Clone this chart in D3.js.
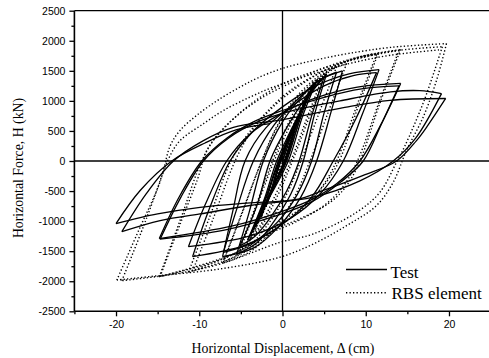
<!DOCTYPE html>
<html>
<head>
<meta charset="utf-8">
<script src="https://cdn.jsdelivr.net/npm/d3@7"></script>
<style>
  html, body { margin: 0; padding: 0; background: #fff; }
  svg { display: block; }
  .tick text { font-family: "Liberation Sans", Arial, sans-serif; font-size: 10.5px; fill: #000; }
  .title { font-family: "Liberation Serif", "Times New Roman", serif; fill: #000; }
</style>
</head>
<body>
<svg id="chart" width="489" height="358"></svg>
<script>
// Axis ticks
const xMajorTicks = [-20, -10, 0, 10, 20];
const xMinorTicks = [-25, -15, -5, 5, 15, 25];
const yMajorTicks = [-2500, -2000, -1500, -1000, -500, 0, 500, 1000, 1500, 2000, 2500];
const yMinorTicks = [-2250, -1750, -1250, -750, -250, 250, 750, 1250, 1750, 2250];

// Test record: half-cycles [displacement (cm), force (kN)], peak to peak
const testElastic = [
  [[0, 0], [1.0, 400], [2.0, 760]],
  [[2.0, 760], [1.0, 340], [0.2, 0], [-0.9, -360], [-2.0, -760]],
  [[-2.0, -760], [-1.0, -360], [-0.2, 0], [1.2, 500], [2.6, 960]],
  [[2.6, 960], [1.4, 500], [0.3, 0], [-1.1, -420], [-2.6, -930]],
  [[-2.6, -930], [-1.3, -450], [-0.3, 0], [1.4, 580], [3.2, 1150]],
  [[3.2, 1150], [1.7, 600], [0.4, 0], [-1.4, -500], [-3.3, -1100]],
  [[-3.3, -1100], [-1.7, -520], [-0.4, 0], [1.7, 680], [3.8, 1300]],
  [[3.8, 1300], [2.1, 700], [0.5, 0], [-1.6, -600], [-3.9, -1250]],
  [[-3.9, -1250], [-2.0, -600], [-0.5, 0], [1.8, 720], [4.2, 1360]],
  [[4.2, 1360], [2.4, 740], [0.7, 0], [-1.7, -640], [-4.2, -1320]]
];
const testLevel5 = [
  [[-4.2, -1320], [-2.2, -640], [-0.7, 0], [1.4, 620], [3.2, 1080], [5.0, 1400]],
  [[5.0, 1400], [3.5, 750], [2.0, 0], [0.5, -500], [-1.5, -950], [-3.3, -1250], [-5.1, -1410]],
  [[-5.1, -1410], [-3.1, -750], [-1.5, 0], [0.5, 550], [2.8, 1050], [5.3, 1450]],
  [[5.3, 1450], [3.8, 750], [2.5, 0], [1.0, -550], [-1.0, -1000], [-3.0, -1350], [-5.5, -1550]]
];
const testLevel7 = [
  [[-5.5, -1550], [-4.0, -850], [-2.3, 0], [0, 650], [2.5, 1100], [4.5, 1350], [6.5, 1480]],
  [[6.5, 1480], [5.0, 800], [3.5, 0], [1.8, -550], [-0.5, -1000], [-3.5, -1350], [-7.1, -1520]],
  [[-7.1, -1520], [-5.5, -800], [-3.5, 0], [-1.0, 600], [2.0, 1050], [4.5, 1350], [7.2, 1500]],
  [[7.2, 1500], [5.8, 800], [4.1, 0], [2.2, -600], [-0.5, -1100], [-3.5, -1450], [-7.2, -1590]]
];
const testLevel11 = [
  [[-7.2, -1590], [-6.0, -850], [-4.5, 0], [-2.0, 550], [1.5, 950], [5.0, 1250], [8.5, 1420], [11.3, 1470]],
  [[11.3, 1470], [8.8, 700], [6.1, 0], [3.5, -600], [0, -1050], [-4.5, -1400], [-10.8, -1590]],
  [[-10.8, -1590], [-8.8, -800], [-6.3, 0], [-3.5, 500], [0, 900], [4.0, 1250], [8.0, 1450], [11.6, 1520]],
  [[11.6, 1520], [9.6, 780], [7.3, 0], [4.5, -550], [1.0, -950], [-4.0, -1250], [-11.3, -1425]]
];
const testLevel14 = [
  [[-11.3, -1425], [-9.2, -700], [-6.7, 0], [-3.9, 450], [0, 800], [4.0, 1050], [9.0, 1230], [14.2, 1290]],
  [[14.2, 1290], [11.8, 600], [9.3, 0], [6.5, -380], [3.7, -630], [-0.3, -850], [-6.0, -1080], [-14.8, -1290]],
  [[-14.8, -1290], [-12.5, -620], [-9.7, 0], [-6.7, 380], [-3.5, 650], [0, 840], [5.0, 1060], [9.5, 1200], [14.0, 1250]],
  [[14.0, 1250], [11.9, 620], [9.7, 0], [7.0, -350], [3.5, -680], [-1.0, -920], [-7.0, -1150], [-14.7, -1300]]
];
const testLevel20 = [
  [[-14.7, -1300], [-12.2, -600], [-9.5, 0], [-6.5, 380], [-3.0, 650], [1.0, 830], [6.9, 1000], [13.0, 1150], [16.5, 1170], [19.1, 1120]],
  [[19.1, 1120], [16.0, 380], [13.3, 0], [9.3, -330], [3.7, -600], [-3.9, -740], [-9.9, -880], [-14.7, -990], [-19.3, -1175]],
  [[-19.3, -1175], [-16.4, -550], [-13.1, 0], [-9.5, 340], [-5.9, 560], [-0.3, 680], [6.9, 875], [12.9, 1010], [19.6, 1040]],
  [[19.6, 1040], [17.5, 600], [16.1, 340], [13.7, 0], [9.7, -240], [4.9, -490], [1.7, -640], [-4.3, -700], [-9.9, -770], [-15.0, -880], [-20.0, -1040]],
  [[-20.0, -1040], [-17.1, -490], [-13.3, 0], [-9.3, 300], [-5.5, 520], [-1.5, 620]]
];

// RBS element model: half-cycles [displacement (cm), force (kN)]
const rbsElastic = [
  [[0, 0], [1.0, 380], [2.0, 740]],
  [[2.0, 740], [1.0, 330], [0.1, 0], [-1.0, -370], [-2.0, -760]],
  [[-2.0, -760], [-1.0, -360], [-0.1, 0], [1.2, 480], [2.6, 950]],
  [[2.6, 950], [1.4, 480], [0.2, 0], [-1.2, -460], [-2.6, -960]],
  [[-2.6, -960], [-1.3, -470], [-0.2, 0], [1.5, 600], [3.2, 1160]],
  [[3.2, 1160], [1.7, 600], [0.3, 0], [-1.5, -560], [-3.3, -1160]],
  [[-3.3, -1160], [-1.7, -560], [-0.3, 0], [1.7, 680], [3.8, 1320]],
  [[3.8, 1320], [2.1, 690], [0.4, 0], [-1.7, -640], [-3.9, -1300]]
];
const rbsLevel5 = [
  [[-3.9, -1300], [-2.0, -640], [-0.4, 0], [1.5, 660], [3.2, 1150], [5.0, 1450]],
  [[5.0, 1450], [3.3, 850], [1.0, 0], [-0.8, -550], [-2.8, -1100], [-5.1, -1480]],
  [[-5.1, -1480], [-3.3, -830], [-1.0, 0], [0.8, 560], [2.8, 1080], [5.3, 1480]],
  [[5.3, 1480], [3.4, 800], [1.2, 0], [-0.5, -550], [-2.6, -1100], [-5.5, -1560]]
];
const rbsLevel7 = [
  [[-5.5, -1560], [-3.3, -780], [-1.2, 0], [0.6, 600], [3.0, 1180], [6.5, 1570]],
  [[6.5, 1570], [4.4, 800], [2.2, 0], [0.5, -550], [-2.0, -1100], [-4.5, -1480], [-7.1, -1680]],
  [[-7.1, -1680], [-4.8, -850], [-2.5, 0], [-0.5, 620], [2.0, 1120], [4.8, 1450], [7.7, 1620]],
  [[7.7, 1620], [5.6, 850], [3.3, 0], [1.5, -580], [-1.0, -1120], [-3.8, -1500], [-7.2, -1700]]
];
const rbsLevel11 = [
  [[-7.2, -1700], [-4.9, -870], [-2.5, 0], [-0.5, 600], [2.0, 1080], [5.0, 1450], [8.0, 1670], [11.3, 1770]],
  [[11.3, 1770], [9.0, 950], [6.5, 0], [4.8, -420], [2.5, -780], [-0.5, -1100], [-5.0, -1550], [-10.8, -1830]],
  [[-10.8, -1830], [-8.3, -950], [-5.7, 0], [-3.8, 480], [-1.5, 850], [1.5, 1200], [5.0, 1500], [8.5, 1700], [11.5, 1787]],
  [[11.5, 1787], [9.2, 950], [6.8, 0], [5.0, -400], [2.8, -720], [0, -1000], [-4.5, -1450], [-11.3, -1850]]
];
const rbsLevel14 = [
  [[-11.3, -1850], [-8.8, -950], [-6.2, 0], [-4.3, 420], [-2.0, 800], [1.0, 1180], [5.0, 1500], [9.5, 1740], [14.2, 1853]],
  [[14.2, 1853], [11.8, 1000], [9.3, 0], [7.7, -410], [5.7, -690], [2.1, -960], [-0.3, -1100], [-6.0, -1550], [-14.8, -1925]],
  [[-14.8, -1925], [-12.2, -950], [-9.7, 0], [-8.0, 400], [-5.5, 750], [-2.5, 1050], [1.0, 1300], [5.0, 1550], [9.5, 1740], [14.0, 1840]],
  [[14.0, 1840], [11.6, 980], [9.0, 0], [7.3, -420], [5.0, -740], [1.5, -1020], [-1.5, -1200], [-7.0, -1620], [-14.7, -1920]]
];
const rbsLevel20 = [
  [[-14.7, -1920], [-12.3, -1050], [-10.2, -300], [-9.0, 200], [-6.5, 620], [-3.5, 980], [0, 1280], [4.0, 1500], [9.0, 1700], [14.0, 1840], [19.2, 1900]],
  [[19.2, 1900], [17.0, 1000], [14.7, 250], [13.7, -20], [11.7, -520], [8.9, -853], [3.7, -1213], [-0.3, -1353], [-7.5, -1713], [-13.0, -1880], [-19.3, -1990]],
  [[-19.3, -1990], [-16.6, -1050], [-14.4, -200], [-13.5, 250], [-12.3, 510], [-10.3, 760], [-7.9, 1000], [-5.1, 1230], [-3.0, 1380], [0, 1540], [4.0, 1680], [8.0, 1790], [13.0, 1890], [19.7, 1953]],
  [[19.7, 1953], [18.5, 1340], [16.9, 730], [14.9, 175], [13.3, -353], [11.3, -740], [7.7, -1075], [3.7, -1380], [-0.3, -1600], [-7.5, -1795], [-14.9, -1908], [-19.9, -1980]],
  [[-19.9, -1980], [-17.1, -1100], [-15.1, -490], [-13.7, 35], [-12.3, 340], [-9.5, 620], [-7.1, 840], [-3.9, 1063], [-1.1, 1230], [3.0, 1420], [8.0, 1620], [13.0, 1760], [19.0, 1850]]
];

const testBranches = [...testElastic, ...testLevel5, ...testLevel7, ...testLevel11, ...testLevel14, ...testLevel20];
const rbsBranches = [...rbsElastic, ...rbsLevel5, ...rbsLevel7, ...rbsLevel11, ...rbsLevel14, ...rbsLevel20];

const svg = d3.select("#chart");
const plotLeft = 74.4, plotRight = 490.6, plotTop = 10.7, plotBottom = 311.3;

const x = d3.scaleLinear().domain([-25, 25]).range([plotLeft, plotRight]);
const y = d3.scaleLinear().domain([-2500, 2500]).range([plotBottom, plotTop]);

svg.append("defs").append("clipPath").attr("id", "plot")
  .append("rect").attr("x", plotLeft).attr("y", plotTop)
  .attr("width", plotRight - plotLeft).attr("height", plotBottom - plotTop);

// Zero reference lines
svg.append("line").attr("x1", plotLeft).attr("x2", plotRight).attr("y1", y(0)).attr("y2", y(0))
  .attr("stroke", "#000").attr("stroke-width", 1.3);
svg.append("line").attr("x1", x(0)).attr("x2", x(0)).attr("y1", plotTop).attr("y2", plotBottom)
  .attr("stroke", "#000").attr("stroke-width", 1.3);

const line = d3.line()
  .x(d => x(d[0]))
  .y(d => y(d[1]))
  .curve(d3.curveCatmullRom.alpha(0.5));

const plot = svg.append("g").attr("clip-path", "url(#plot)");

plot.selectAll("path.rbs").data(rbsBranches).join("path")
  .attr("class", "rbs")
  .attr("d", line)
  .attr("fill", "none")
  .attr("stroke", "#000")
  .attr("stroke-width", 1.4)
  .attr("stroke-dasharray", "1.3 2.2");

plot.selectAll("path.test").data(testBranches).join("path")
  .attr("class", "test")
  .attr("d", line)
  .attr("fill", "none")
  .attr("stroke", "#000")
  .attr("stroke-width", 1.3)
  .attr("stroke-linejoin", "round");

// Frame
svg.append("line").attr("x1", plotLeft).attr("x2", plotRight).attr("y1", plotTop).attr("y2", plotTop)
  .attr("stroke", "#000").attr("stroke-width", 1.3);
svg.append("line").attr("x1", plotLeft).attr("x2", plotRight).attr("y1", plotBottom).attr("y2", plotBottom)
  .attr("stroke", "#000").attr("stroke-width", 1.6);
svg.append("line").attr("x1", plotLeft).attr("x2", plotLeft).attr("y1", plotTop).attr("y2", plotBottom)
  .attr("stroke", "#000").attr("stroke-width", 1.6);

// Axes
const yAxis = svg.append("g").attr("transform", `translate(${plotLeft},0)`)
  .call(d3.axisLeft(y).tickValues(yMajorTicks).tickSize(5).tickPadding(4).tickFormat(d => String(d)));
const yMinor = svg.append("g").attr("transform", `translate(${plotLeft},0)`)
  .call(d3.axisLeft(y).tickValues(yMinorTicks).tickSize(3).tickFormat(""));
const xAxis = svg.append("g").attr("transform", `translate(0,${plotBottom})`)
  .call(d3.axisBottom(x).tickValues(xMajorTicks).tickSize(5).tickPadding(4).tickFormat(d => String(d)));
const xMinor = svg.append("g").attr("transform", `translate(0,${plotBottom})`)
  .call(d3.axisBottom(x).tickValues(xMinorTicks).tickSize(3).tickFormat(""));

[yAxis, yMinor, xAxis, xMinor].forEach(g => {
  g.select(".domain").remove();
  g.selectAll(".tick line").attr("stroke", "#000").attr("stroke-width", 1.3);
});

// Axis titles
svg.append("text").attr("class", "title")
  .attr("x", 283).attr("y", 353)
  .attr("text-anchor", "middle")
  .style("font-size", "13.8px")
  .text("Horizontal Displacement, \u0394 (cm)");

svg.append("text").attr("class", "title")
  .attr("transform", "translate(23,168) rotate(-90)")
  .attr("text-anchor", "middle")
  .style("font-size", "13.8px")
  .text("Horizontal Force, H (kN)");

// Legend
const legend = svg.append("g");
legend.append("line").attr("x1", 346).attr("x2", 387).attr("y1", 269.5).attr("y2", 269.5)
  .attr("stroke", "#000").attr("stroke-width", 1.3);
legend.append("text").attr("class", "title").attr("x", 390.5).attr("y", 278.3)
  .style("font-size", "17px").text("Test");
legend.append("line").attr("x1", 346).attr("x2", 387).attr("y1", 292.7).attr("y2", 292.7)
  .attr("stroke", "#000").attr("stroke-width", 1.4).attr("stroke-dasharray", "1.3 2.2");
legend.append("text").attr("class", "title").attr("x", 391.5).attr("y", 298.5)
  .style("font-size", "17px").text("RBS element");
</script>
</body>
</html>
